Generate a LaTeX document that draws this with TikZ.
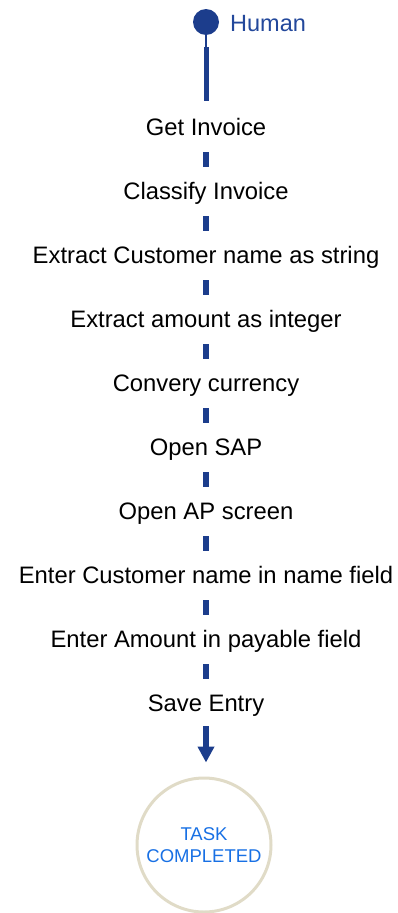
\documentclass[tikz,border=0pt]{standalone}
\definecolor{flowblue}{RGB}{28,61,140}
\definecolor{humanblue}{RGB}{35,72,155}
\definecolor{doneblue}{RGB}{24,112,228}
\definecolor{donering}{RGB}{224,219,199}
\usepackage{fontspec}
\setmainfont{Liberation Sans}
\usepackage{tikz}
\usetikzlibrary{arrows.meta}

\begin{document}
\begin{tikzpicture}[x=1pt,y=-1pt,
    stepbox/.style={inner sep=0pt,text height=17pt,text depth=0pt,
      anchor=south,font=\fontsize{23.8}{28}\selectfont},
    stepdash/.style={draw=flowblue,line width=6pt,
      shorten <=16pt,shorten >=16pt}]
    \useasboundingbox (0,0) rectangle (398,913);

    % start: human
    \node[circle,fill=flowblue,inner sep=0pt,minimum size=26pt] (human) at (206,22) {};
    \node[anchor=base west,inner sep=0pt,text=humanblue,
          font=\fontsize{23.5}{28}\selectfont] (humanlbl) at (230,31) {Human};
    \coordinate (hstem) at (206,47);

    % steps
    \node[stepbox] (s1) at (206,136) {Get Invoice};
    \node[stepbox] (s2) at (206,200) {Classify Invoice};
    \node[stepbox] (s3) at (206,264) {Extract Customer name as string};
    \node[stepbox] (s4) at (206,328) {Extract amount as integer};
    \node[stepbox] (s5) at (206,392) {Convery currency};
    \node[stepbox] (s6) at (206,456) {Open SAP};
    \node[stepbox] (s7) at (206,520) {Open AP screen};
    \node[stepbox] (s8) at (206,584) {Enter Customer name in name field};
    \node[stepbox] (s9) at (206,648) {Enter Amount in payable field};
    \node[stepbox] (s10) at (206,712) {Save Entry};

    % end
    \node[circle,draw=donering,line width=3pt,minimum size=134pt,
          inner sep=0pt,align=center,text=doneblue,
          font=\fontsize{18.5}{22}\selectfont] (done) at (204,845) {TASK\\COMPLETED};

    % connectors
    \draw[flowblue,line width=2.5pt] (human) -- (hstem);
    \draw[flowblue,line width=5pt,shorten >=18pt] (hstem) -- (s1.north);
    \draw[stepdash] (s1.south) -- (s2.north);
    \draw[stepdash] (s2.south) -- (s3.north);
    \draw[stepdash] (s3.south) -- (s4.north);
    \draw[stepdash] (s4.south) -- (s5.north);
    \draw[stepdash] (s5.south) -- (s6.north);
    \draw[stepdash] (s6.south) -- (s7.north);
    \draw[stepdash] (s7.south) -- (s8.north);
    \draw[stepdash] (s8.south) -- (s9.north);
    \draw[stepdash] (s9.south) -- (s10.north);
    \draw[-{Triangle[width=16pt,length=16pt]},flowblue,line width=6pt,
          shorten <=14pt,shorten >=14pt] (s10.south) -- (s10.south |- done.north);
\end{tikzpicture}
\end{document}
